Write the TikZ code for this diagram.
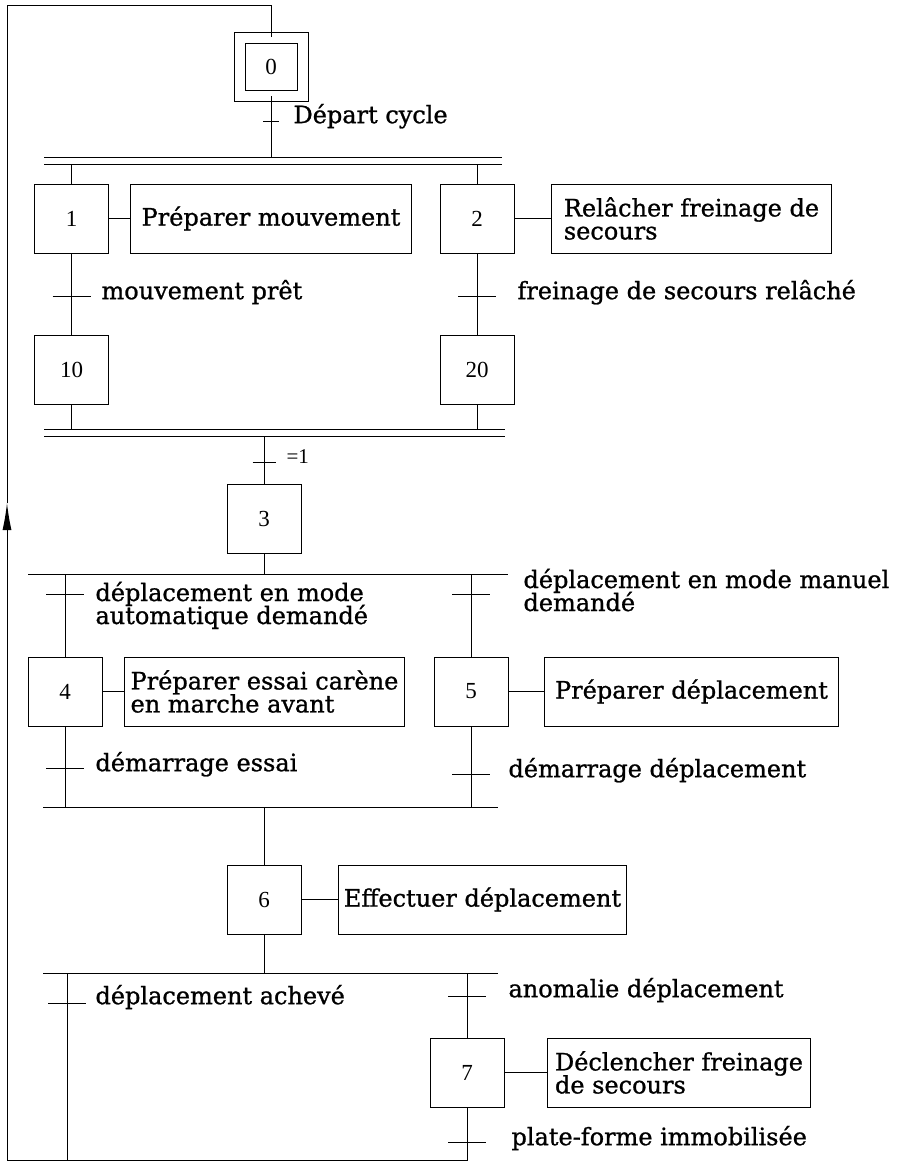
\documentclass[tikz,border=0pt]{standalone}
\usepackage{fontspec}
\newfontfamily\labelfont[FakeBold=1]{DejaVu Serif}
\newfontfamily\numfont{Liberation Serif}
\usetikzlibrary{arrows.meta, positioning, calc}

\begin{document}
\lineskiplimit=-20pt
\begin{tikzpicture}[x=1pt, y=-1pt, line width=1pt,
    etape/.style={draw, minimum width=74pt, minimum height=69pt, inner sep=0pt, font=\numfont\fontsize{23}{23}\selectfont},
    initiale/.style={etape, double, double distance=10pt, minimum width=63pt, minimum height=58pt},
    action/.style={draw, anchor=west, minimum height=69pt, inner sep=0pt, align=left,
      font=\labelfont\fontsize{24}{23}\selectfont},
    recept/.style={anchor=mid west, inner sep=0pt, font=\labelfont\fontsize{24}{23}\selectfont},
    recept2/.style={recept, anchor=base west, align=left},
    retour/.style={-{Latex[length=27pt, width=9pt]}}
  ]
  \useasboundingbox (0,0) rectangle (901,1162);

  % Etapes
  \node[initiale] (s0) at (271,66.5) {0};
  \node[etape] (s1) at (71.5,218.5) {1};
  \node[etape] (s2) at (477,218.5) {2};
  \node[etape] (s10) at (71.5,369.5) {10};
  \node[etape] (s20) at (477,369.5) {20};
  \node[etape] (s3) at (264,518.5) {3};
  \node[etape] (s4) at (65,691.5) {4};
  \node[etape] (s5) at (471,691.5) {5};
  \node[etape] (s6) at (264,899.5) {6};
  \node[etape] (s7) at (467,1072.5) {7};

  % Actions
  \node[action, minimum width=281pt] (a1) at (130,218.5) {Préparer mouvement};
  \node[action, minimum width=280pt] (a2) at (551,218.5) {Relâcher freinage de\\secours};
  \node[action, minimum width=280pt] (a4) at (124,691.5) {Préparer essai carène\\en marche avant};
  \node[action, minimum width=294pt] (a5) at (544,691.5) {Préparer déplacement};
  \node[action, minimum width=288pt] (a6) at (338,899.5) {Effectuer déplacement};
  \node[action, minimum width=263pt] (a7) at (547,1072.5) {Déclencher freinage\\de secours};
  \foreach \n in {1,2,4,5,6,7}
    \draw (s\n.east) -- (a\n.west);

  % Barres et coordonnees
  \coordinate (j1a) at (44,157);  \coordinate (j1b) at (502,157);
  \coordinate (j1c) at (44,164);  \coordinate (j1d) at (502,164);
  \coordinate (j2a) at (44,429);  \coordinate (j2b) at (505,429);
  \coordinate (j2c) at (44,436);  \coordinate (j2d) at (505,436);
  \coordinate (d1l) at (28,574);  \coordinate (d1r) at (508,574);
  \coordinate (c1l) at (43,807);  \coordinate (c1r) at (498,807);
  \coordinate (d2l) at (43,973);  \coordinate (d2r) at (498,973);
  \coordinate (bas) at (7,1160);  \coordinate (haut) at (7,5);
  \coordinate (fleche) at (7,503);
  \draw (j1a) -- (j1b);  \draw (j1c) -- (j1d);
  \draw (j2a) -- (j2b);  \draw (j2c) -- (j2d);
  \draw (d1l) -- (d1r);  \draw (c1l) -- (c1r);
  \draw (d2l) -- (d2r);

  % Transitions
  \coordinate (t0) at (271,121);
  \coordinate (t1) at (71.5,296);
  \coordinate (t2) at (477,296);
  \coordinate (t3) at (264,462);
  \coordinate (t4a) at (65,594);
  \coordinate (t5a) at (471,594);
  \coordinate (t4b) at (65,768);
  \coordinate (t5b) at (471,774);
  \coordinate (t6a) at (67,1003);
  \coordinate (t6b) at (467,996);
  \coordinate (t7) at (467,1142);

  % Liaisons
  \draw (s0) -- (s0 |- j1a);
  \draw (s1 |- j1c) -- (s1);  \draw (s2 |- j1c) -- (s2);
  \draw (s1) -- (s10);  \draw (s2) -- (s20);
  \draw (s10) -- (s10 |- j2a);  \draw (s20) -- (s20 |- j2a);
  \draw (s3 |- j2c) -- (s3);
  \draw (s3) -- (s3 |- d1l);
  \draw (s4 |- d1l) -- (s4);  \draw (s5 |- d1l) -- (s5);
  \draw (s4) -- (s4 |- c1l);  \draw (s5) -- (s5 |- c1l);
  \draw (s6 |- c1l) -- (s6);
  \draw (s6) -- (s6 |- d2l);
  \draw (t6a |- d2l) -- (t6a |- bas);
  \draw (s7 |- d2l) -- (s7);
  \draw[retour] (s7) -- (s7 |- bas) -- (bas) -- (fleche);
  \draw (fleche) -- (haut) -- (haut -| s0) -- (s0);

  % Receptivites
  \draw ([xshift=-8pt]t0) -- ([xshift=8pt]t0);
  \draw ([xshift=-11.5pt]t3) -- ([xshift=11.5pt]t3);
  \foreach \t in {t1,t2,t4a,t5a,t4b,t5b,t6a,t6b,t7}
    \draw ([xshift=-19pt]\t) -- ([xshift=19pt]\t);

  \node[recept] (r0) at (293,121) {Départ cycle};
  \node[recept] (r1) at (101,297) {mouvement prêt};
  \node[recept] (r2) at (517,297) {freinage de secours relâché};
  \node[recept, font=\numfont\fontsize{21}{21}\selectfont] (r3) at (286,461) {=1};
  \node[recept2] (r4a) at (95,624) {déplacement en mode\\automatique demandé};
  \node[recept2] (r5a) at (523,611) {déplacement en mode manuel\\demandé};
  \node[recept] (r4b) at (95,769) {démarrage essai};
  \node[recept] (r5b) at (508,775) {démarrage déplacement};
  \node[recept] (r6a) at (95,1002) {déplacement achevé};
  \node[recept] (r6b) at (508,995) {anomalie déplacement};
  \node[recept] (r7) at (511,1143) {plate-forme immobilisée};

\end{tikzpicture}
\end{document}
